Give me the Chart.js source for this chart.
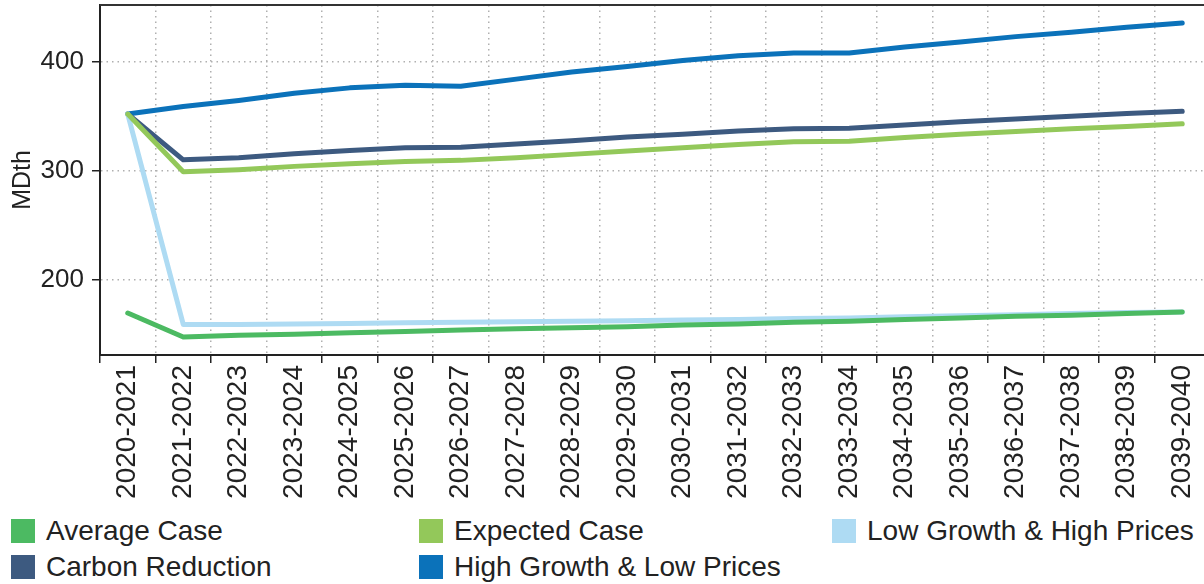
<!DOCTYPE html>
<html>
<head>
<meta charset="utf-8">
<script src="https://cdn.jsdelivr.net/npm/chart.js@4/dist/chart.umd.min.js"></script>
<style>
  body { margin: 0; background: #fff; overflow: hidden; font-family: "Liberation Sans", Arial, sans-serif; }
  #wrap { position: relative; width: 1204px; height: 584px; overflow: hidden; }
  #chart { position: absolute; left: 0; top: 0; }
  .item { position: absolute; font-size: 28px; color: #222; line-height: 24px; white-space: nowrap; }
  .box { display: inline-block; width: 24px; height: 24px; vertical-align: top; margin-right: 11px; }
</style>
</head>
<body>
<div id="wrap">
  <canvas id="chart" width="1211" height="510"></canvas>
  <div id="legend"></div>
</div>
<script>
// Fiscal years
const years = [
  "2020-2021", "2021-2022", "2022-2023", "2023-2024", "2024-2025",
  "2025-2026", "2026-2027", "2027-2028", "2028-2029", "2029-2030",
  "2030-2031", "2031-2032", "2032-2033", "2033-2034", "2034-2035",
  "2035-2036", "2036-2037", "2037-2038", "2038-2039", "2039-2040"
];

// MDth per scenario
const averageCase = [169.5, 147.5, 149, 150, 151.5, 152.5, 154, 155, 156, 157,
  158.5, 159.5, 161, 162, 163.5, 165, 166.5, 167.5, 169, 170.5];
const expectedCase = [352, 299, 301, 304, 306.5, 308.5, 309.5, 312, 315, 318,
  321, 324, 326.5, 327, 330.5, 333.5, 336, 338.5, 340.5, 343];
const lowGrowth = [352, 159, 159, 159.5, 160, 160.5, 161, 161.5, 162, 162.5,
  163, 163.5, 164.5, 165, 166, 167, 168, 169, 170, 170.5];
const carbonReduction = [352, 310, 312, 315.5, 318.5, 321, 321.5, 324.5, 327.5, 331,
  333.5, 336.5, 338.5, 339, 342, 345, 347.5, 350, 352.5, 354.5];
const highGrowth = [352, 359, 364.5, 371, 376, 378.5, 377.5, 384, 390.5, 395.5,
  401, 405.5, 408, 408, 413.5, 418, 423, 427, 431.5, 435.5];

const yTicks = [200, 300, 400];

const series = [
  { label: "Average Case", data: averageCase, color: "#4CBA62" },
  { label: "Expected Case", data: expectedCase, color: "#93C85A" },
  { label: "Low Growth & High Prices", data: lowGrowth, color: "#AEDBF3" },
  { label: "Carbon Reduction", data: carbonReduction, color: "#3D5A80" },
  { label: "High Growth & Low Prices", data: highGrowth, color: "#0B72BA" }
];

// top edge of the plot box
const frame = {
  id: "frame",
  afterDraw(chart) {
    const a = chart.chartArea;
    const c = chart.ctx;
    c.save();
    c.setLineDash([]);
    c.strokeStyle = "#333";
    c.lineWidth = 2;
    c.beginPath();
    c.moveTo(a.left, a.top);
    c.lineTo(a.right, a.top);
    c.stroke();
    c.restore();
  }
};

const gridOpts = {
  color: "#b0b0b0",
  lineWidth: 1.5,
  tickColor: "#222",
  tickLength: 8,
  tickBorderDash: [],
  tickWidth: 1.5
};

const ctx = document.getElementById("chart").getContext("2d");
new Chart(ctx, {
  type: "line",
  data: {
    labels: years,
    datasets: series.map(s => ({
      label: s.label,
      data: s.data,
      borderColor: s.color,
      backgroundColor: s.color,
      borderWidth: 5,
      pointRadius: 0,
      tension: 0,
      borderCapStyle: "round",
      borderJoinStyle: "round",
      fill: false
    }))
  },
  options: {
    responsive: false,
    animation: false,
    layout: { padding: { top: 5, right: 1, left: 0, bottom: 0 } },
    plugins: { legend: { display: false }, tooltip: { enabled: false } },
    scales: {
      x: {
        offset: true,
        grid: Object.assign({ offset: true }, gridOpts),
        border: { color: "#222", width: 2, dash: [1.5, 4] },
        ticks: {
          color: "#222",
          font: { family: "Liberation Sans", size: 28 },
          minRotation: 90,
          maxRotation: 90,
          autoSkip: false,
          padding: 2
        },
        afterFit(scale) {
          scale.height = 155;
          scale.paddingLeft = 0;
          scale.paddingRight = 0;
        }
      },
      y: {
        min: 131,
        max: 452,
        grid: gridOpts,
        border: { color: "#222", width: 2, dash: [1.5, 4] },
        ticks: {
          color: "#222",
          font: { family: "Liberation Sans", size: 26 },
          padding: 8
        },
        afterBuildTicks(axis) { axis.ticks = yTicks.map(v => ({ value: v })); },
        title: {
          display: true,
          text: "MDth",
          color: "#222",
          font: { family: "Liberation Sans", size: 25 },
          padding: { top: 8, bottom: 0 }
        },
        afterFit(scale) {
          scale.width = 100;
          scale.paddingTop = 0;
          scale.paddingBottom = 0;
        }
      }
    }
  },
  plugins: [frame]
});

// legend laid out in three columns like the original
const legendPos = [[11, 519], [419, 519], [832, 519], [11, 555], [419, 555]];
const legendEl = document.getElementById("legend");
series.forEach((s, i) => {
  const item = document.createElement("div");
  item.className = "item";
  item.style.left = legendPos[i][0] + "px";
  item.style.top = legendPos[i][1] + "px";
  item.innerHTML = '<span class="box" style="background:' + s.color + '"></span>' + s.label;
  legendEl.appendChild(item);
});
</script>
</body>
</html>
